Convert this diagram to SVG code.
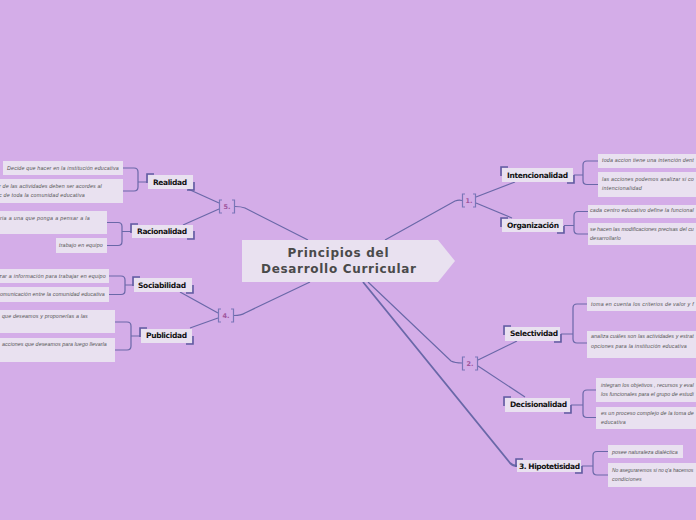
<svg xmlns="http://www.w3.org/2000/svg" width="696" height="520" viewBox="0 0 696 520">
<style>
.bg{fill:#d4ade8}
.nb{fill:#e9e1f0}
.lf{fill:#e9e1f0}
.cn{fill:none;stroke:#6a68a8;stroke-width:1.2}
.ck{fill:none;stroke:#6a68a8;stroke-width:1.8}
.cr{fill:none;stroke:#5f5ca0;stroke-width:1.6}
.bk{fill:none;stroke:#7a76b8;stroke-width:1.2}
.bl{font-family:"DejaVu Sans",sans-serif;font-weight:bold;font-size:6.5px;fill:#a0569e}
.nt{font-family:"DejaVu Sans",sans-serif;font-weight:bold;font-size:7.5px;fill:#111}
.lt{font-family:"Liberation Sans",sans-serif;font-style:italic;font-size:5.3px;fill:#555;letter-spacing:0.25px}
.mt{font-family:"DejaVu Sans",sans-serif;font-weight:bold;font-size:12px;fill:#4a4a4a;text-anchor:middle}
</style>
<rect class="bg" x="0" y="0" width="696" height="520"/>

<g id="connectors">
<path class="cn" d="M308,240 L245,208 Q241,206.5 235,206.5"/>
<path class="cn" d="M310,282 L245,313 Q241,315.5 234,315.5"/>
<path class="cn" d="M385,240 L455,201 Q459,199.5 462,200.5"/>
<path class="cn" d="M368,282 L451,361 Q455,363 462,363"/>
<path class="ck" d="M363,282 L510,463 Q513,466 517,466"/>
<path class="cn" d="M219,203 L188,189"/>
<path class="cn" d="M219,209 L183,225"/>
<path class="cn" d="M218,313 L180,292"/>
<path class="cn" d="M218,318 L190,328"/>
<path class="cn" d="M476,197 L515,182"/>
<path class="cn" d="M476,203 L512,218"/>
<path class="cn" d="M478,360 L517,341"/>
<path class="cn" d="M478,366 L525,397"/>
<path class="cn" d="M123,168 H134 Q138,168 138,172 V187 Q138,191 134,191 H123 M138,182 H147"/>
<path class="cn" d="M107,222.5 H118 Q122,222.5 122,226.5 V241.5 Q122,245.5 118,245.5 H107 M122,231.5 H131"/>
<path class="cn" d="M109,276 H121 Q125,276 125,280 V290.5 Q125,294.5 121,294.5 H109 M125,285 H133"/>
<path class="cn" d="M115,322 H127 Q131,322 131,326 V346 Q131,350 127,350 H115 M131,336 H140"/>
<path class="cn" d="M574,175 H583 M598,161 H587 Q583,161 583,165 V180.5 Q583,184.5 587,184.5 H598"/>
<path class="cn" d="M564,225.5 H574 M588,211.5 H578 Q574,211.5 574,215.5 V230 Q574,234 578,234 H588"/>
<path class="cn" d="M561,334 H573 M587,304 H577 Q573,304 573,308 V339 Q573,343 577,343 H587"/>
<path class="cn" d="M571,405 H583 M596,390 H587 Q583,390 583,394 V413.5 Q583,417.5 587,417.5 H596"/>
<path class="cn" d="M582,466 H593 M608,451.5 H597 Q593,451.5 593,455.5 V471 Q593,475 597,475 H608"/>
</g>

<g id="center">
<polygon class="nb" points="242,240 438,240 455,261 438,282 242,282"/>
<text class="mt" x="338" y="257" textLength="101" lengthAdjust="spacing">Principios del</text>
<text class="mt" x="338.5" y="272.5" textLength="155" lengthAdjust="spacing">Desarrollo Curricular</text>
</g>

<g id="b5">
<path class="bk" d="M222,200 H219.5 V213 H222 M232,200 H234.5 V213 H232"/>
<text class="bl" x="223.5" y="209">5.</text>
</g>
<g id="b4">
<path class="bk" d="M221,309 H218.5 V322 H221 M231,309 H233.5 V322 H231"/>
<text class="bl" x="222.5" y="318">4.</text>
</g>
<g id="b1">
<path class="bk" d="M465,194 H462.5 V207 H465 M473,194 H475.5 V207 H473"/>
<text class="bl" x="465.5" y="203">1.</text>
</g>
<g id="b2">
<path class="bk" d="M465,357 H462.5 V370 H465 M475,357 H477.5 V370 H475"/>
<text class="bl" x="466.5" y="366">2.</text>
</g>

<g id="realidad">
<rect class="nb" x="148" y="175" width="45" height="14"/>
<path class="cr" d="M147,183 V174 H154 M194,182 V190 H187"/>
<text class="nt" x="153" y="184.5" textLength="34" lengthAdjust="spacing">Realidad</text>
</g>
<g id="racionalidad">
<rect class="nb" x="132" y="225" width="61" height="13"/>
<path class="cr" d="M131,233 V224 H138 M194,231 V239 H187"/>
<text class="nt" x="137" y="234" textLength="50" lengthAdjust="spacing">Racionalidad</text>
</g>
<g id="sociabilidad">
<rect class="nb" x="134" y="278" width="58" height="14"/>
<path class="cr" d="M133,286 V277 H140 M193,285 V293 H186"/>
<text class="nt" x="138" y="288" textLength="48" lengthAdjust="spacing">Sociabilidad</text>
</g>
<g id="publicidad">
<rect class="nb" x="141" y="329" width="51" height="14"/>
<path class="cr" d="M140,337 V328 H147 M193,336 V344 H186"/>
<text class="nt" x="146" y="338" textLength="41" lengthAdjust="spacing">Publicidad</text>
</g>
<g id="intencionalidad">
<rect class="nb" x="502" y="168" width="71" height="14"/>
<path class="cr" d="M501,176 V167 H508 M574,175 V183 H567"/>
<text class="nt" x="507" y="178" textLength="61" lengthAdjust="spacing">Intencionalidad</text>
</g>
<g id="organizacion">
<rect class="nb" x="502" y="219" width="61" height="13"/>
<path class="cr" d="M501,227 V218 H508 M564,226 V233 H557"/>
<text class="nt" x="507" y="228" textLength="52" lengthAdjust="spacing">Organización</text>
</g>
<g id="selectividad">
<rect class="nb" x="505" y="327" width="55" height="14"/>
<path class="cr" d="M504,335 V326 H511 M561,334 V342 H554"/>
<text class="nt" x="510" y="336" textLength="48" lengthAdjust="spacing">Selectividad</text>
</g>
<g id="decisionalidad">
<rect class="nb" x="505" y="398" width="65" height="14"/>
<path class="cr" d="M504,406 V397 H511 M571,405 V413 H564"/>
<text class="nt" x="510" y="407" textLength="57" lengthAdjust="spacing">Decisionalidad</text>
</g>
<g id="hipotetisidad">
<rect class="nb" x="517" y="460" width="64" height="12"/>
<path class="cr" d="M516,467 V459 H523 M582,466 V473 H575"/>
<text class="nt" x="519" y="469" textLength="61" lengthAdjust="spacing">3. Hipotetisidad</text>
</g>

<g id="leaf-realidad-1">
<rect class="lf" x="3" y="161" width="120" height="14"/>
<text class="lt" x="7" y="169.5" textLength="112" lengthAdjust="spacing">Decide que hacer en la institución educativa</text>
</g>
<g id="leaf-realidad-2">
<rect class="lf" x="-10" y="179" width="133" height="24"/>
<text class="lt" x="-1" y="187.5" textLength="103" lengthAdjust="spacing">r de las actividades deben ser acordes al</text>
<text class="lt" x="-1" y="196.5" textLength="86" lengthAdjust="spacing">c de toda la comunidad educativa</text>
</g>
<g id="leaf-racionalidad-1">
<rect class="lf" x="-10" y="211" width="117" height="23"/>
<text class="lt" x="0" y="219.5" textLength="90" lengthAdjust="spacing">ria a una que ponga a pensar a la</text>
</g>
<g id="leaf-racionalidad-2">
<rect class="lf" x="56" y="238" width="51" height="15"/>
<text class="lt" x="59" y="247" textLength="44" lengthAdjust="spacing">trabajo en equipo</text>
</g>
<g id="leaf-sociabilidad-1">
<rect class="lf" x="-10" y="269" width="119" height="14"/>
<text class="lt" x="-1" y="277.5" textLength="107" lengthAdjust="spacing">zar a información para trabajar en equipo</text>
</g>
<g id="leaf-sociabilidad-2">
<rect class="lf" x="-10" y="287" width="119" height="15"/>
<text class="lt" x="0" y="295.5" textLength="105" lengthAdjust="spacing">omunicación entre la comunidad educativa</text>
</g>
<g id="leaf-publicidad-1">
<rect class="lf" x="-10" y="310" width="125" height="23"/>
<text class="lt" x="2" y="318" textLength="86" lengthAdjust="spacing">que deseamos y proponerlas a las</text>
</g>
<g id="leaf-publicidad-2">
<rect class="lf" x="-10" y="338" width="125" height="24"/>
<text class="lt" x="2" y="346" textLength="105" lengthAdjust="spacing">acciones que deseamos para luego llevarla</text>
</g>
<g id="leaf-intencionalidad-1">
<rect class="lf" x="598" y="154" width="110" height="14"/>
<text class="lt" x="602" y="162" textLength="92" lengthAdjust="spacing">toda accion tiene una intención dent</text>
</g>
<g id="leaf-intencionalidad-2">
<rect class="lf" x="598" y="172" width="110" height="25"/>
<text class="lt" x="602" y="180.5" textLength="92" lengthAdjust="spacing">las acciones podemos analizar si co</text>
<text class="lt" x="602" y="189.5" textLength="40" lengthAdjust="spacing">intencionalidad</text>
</g>
<g id="leaf-organizacion-1">
<rect class="lf" x="588" y="205" width="110" height="13"/>
<text class="lt" x="590" y="212" textLength="104" lengthAdjust="spacing">cada centro educativo define la funcional</text>
</g>
<g id="leaf-organizacion-2">
<rect class="lf" x="588" y="223" width="110" height="22"/>
<text class="lt" x="590" y="230.5" textLength="104" lengthAdjust="spacing">se hacen las modificaciones precisas del cu</text>
<text class="lt" x="590" y="239.5" textLength="31" lengthAdjust="spacing">desarrollarlo</text>
</g>
<g id="leaf-selectividad-1">
<rect class="lf" x="587" y="297" width="110" height="14"/>
<text class="lt" x="591" y="305.5" textLength="103" lengthAdjust="spacing">toma en cuenta los criterios de valor y f</text>
</g>
<g id="leaf-selectividad-2">
<rect class="lf" x="587" y="331" width="110" height="27"/>
<text class="lt" x="591" y="338" textLength="103" lengthAdjust="spacing">analiza cuáles son las actividades y estrat</text>
<text class="lt" x="591" y="347.5" textLength="96" lengthAdjust="spacing">opciones para la institución educativa</text>
</g>
<g id="leaf-decisionalidad-1">
<rect class="lf" x="596" y="378" width="110" height="24"/>
<text class="lt" x="601" y="386.5" textLength="93" lengthAdjust="spacing">integran los objetivos , recursos y eval</text>
<text class="lt" x="601" y="395.5" textLength="93" lengthAdjust="spacing">los funcionales para el grupo de estudi</text>
</g>
<g id="leaf-decisionalidad-2">
<rect class="lf" x="596" y="407" width="110" height="22"/>
<text class="lt" x="601" y="414.5" textLength="93" lengthAdjust="spacing">es un proceso complejo de la toma de</text>
<text class="lt" x="601" y="423.5">educativa</text>
</g>
<g id="leaf-hipotetisidad-1">
<rect class="lf" x="608" y="445" width="75" height="13"/>
<text class="lt" x="612" y="453.5" textLength="66" lengthAdjust="spacing">posee naturaleza dialéctica</text>
</g>
<g id="leaf-hipotetisidad-2">
<rect class="lf" x="608" y="463" width="100" height="24"/>
<text class="lt" x="612" y="471.5" style="letter-spacing:0;font-size:5px">No aseguraremos si no q'a hacemos</text>
<text class="lt" x="612" y="480.5" textLength="30" lengthAdjust="spacing">condiciones</text>
</g>
</svg>
